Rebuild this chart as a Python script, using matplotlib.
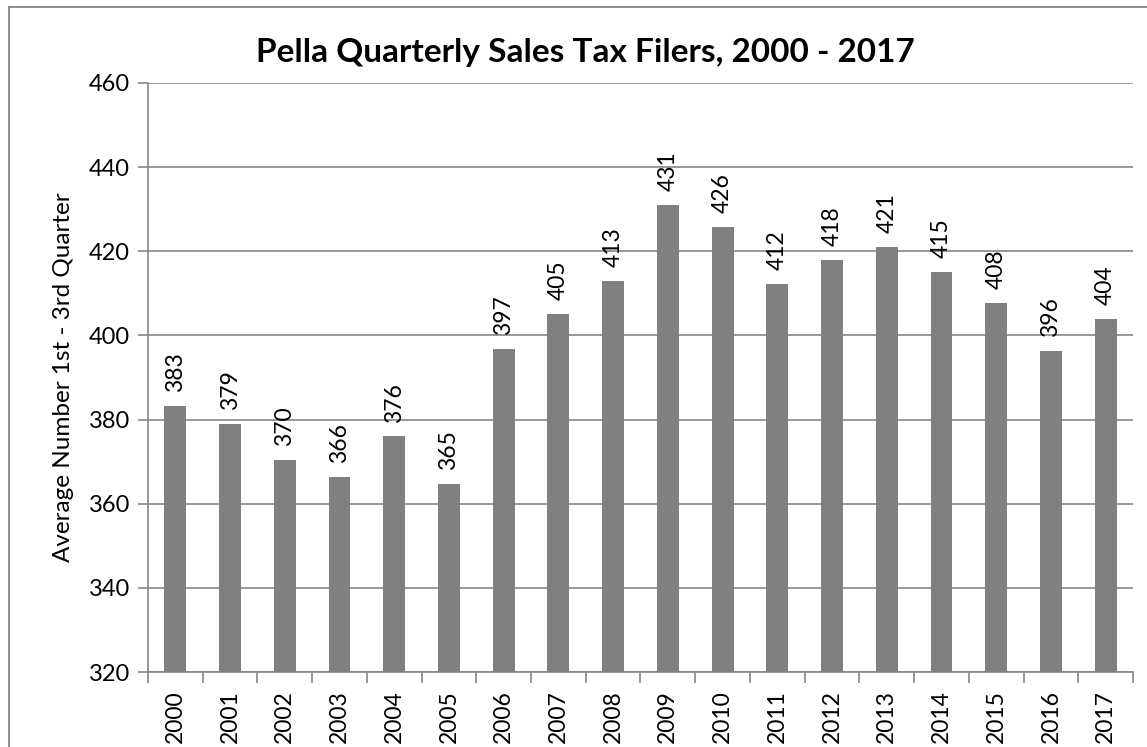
#!/usr/bin/env python3
"""Pella quarterly sales tax filers, 2000-2017, as an Excel-style column chart."""

import matplotlib

matplotlib.use("Agg")
import matplotlib.pyplot as plt
from matplotlib.lines import Line2D
import numpy as np

years = [str(y) for y in range(2000, 2018)]
# average filers over the 1st-3rd quarter of each year
filers = [383.3, 379.0, 370.3, 366.3, 376.0, 364.7, 396.7, 405.0, 413.0,
          431.0, 425.7, 412.3, 418.0, 421.0, 415.0, 407.7, 396.3, 404.0]
y_ticks = [320, 340, 360, 380, 400, 420, 440, 460]

GRAY = "#808080"
AXIS = "#868686"
FONT = "Lato"

plt.rcParams["font.family"] = [FONT, "DejaVu Sans"]

fig = plt.figure(figsize=(11.47, 7.47), dpi=100)
ax = fig.add_axes([0.129, 0.1004, 0.8588, 0.7885])

x = np.arange(len(years))
bars = ax.bar(x, filers, width=0.4, color=GRAY, zorder=3)

for bar, value in zip(bars, filers):
    ax.annotate(f"{value:.0f}", (bar.get_x() + bar.get_width() / 2, value),
                xytext=(0, 10), textcoords="offset points", rotation=90,
                ha="center", va="bottom", fontsize=16.5, color="black")

ax.set_xlim(-0.5, len(years) - 0.5)
ax.set_ylim(320, 460)
ax.set_yticks(y_ticks)
ax.tick_params(axis="y", labelsize=17, length=7, width=1.2, color=AXIS, pad=6)

# category labels centred under bars, tick marks on category boundaries
ax.set_xticks(x)
ax.set_xticklabels(years, rotation=90, fontsize=16.5)
ax.set_xticks(np.arange(-0.5, len(years)), minor=True)
ax.tick_params(axis="x", which="major", length=0, pad=13)
ax.tick_params(axis="x", which="minor", length=8, width=1.2, color=AXIS)

ax.grid(axis="y", color=AXIS, linewidth=1.2, zorder=0)
for side in ("top", "right"):
    ax.spines[side].set_visible(False)
for side in ("left", "bottom"):
    ax.spines[side].set_color(AXIS)
    ax.spines[side].set_linewidth(1.2)

ax.set_ylabel("Average Number 1st - 3rd Quarter", fontsize=17.5)
ax.yaxis.set_label_coords(-0.075, 0.5)

fig.text(0.51, 0.917, "Pella Quarterly Sales Tax Filers, 2000 - 2017",
         ha="center", va="baseline", fontsize=24, fontweight="bold")

# chart-area frame
fig.add_artist(Line2D([9 / 1147, 9 / 1147], [0, 1 - 7 / 747],
                      transform=fig.transFigure, color=AXIS, linewidth=1.3))
fig.add_artist(Line2D([9 / 1147, 1], [1 - 7 / 747, 1 - 7 / 747],
                      transform=fig.transFigure, color=AXIS, linewidth=1.3))

fig.savefig("out.png", dpi=100, facecolor="white")
plt.close(fig)
